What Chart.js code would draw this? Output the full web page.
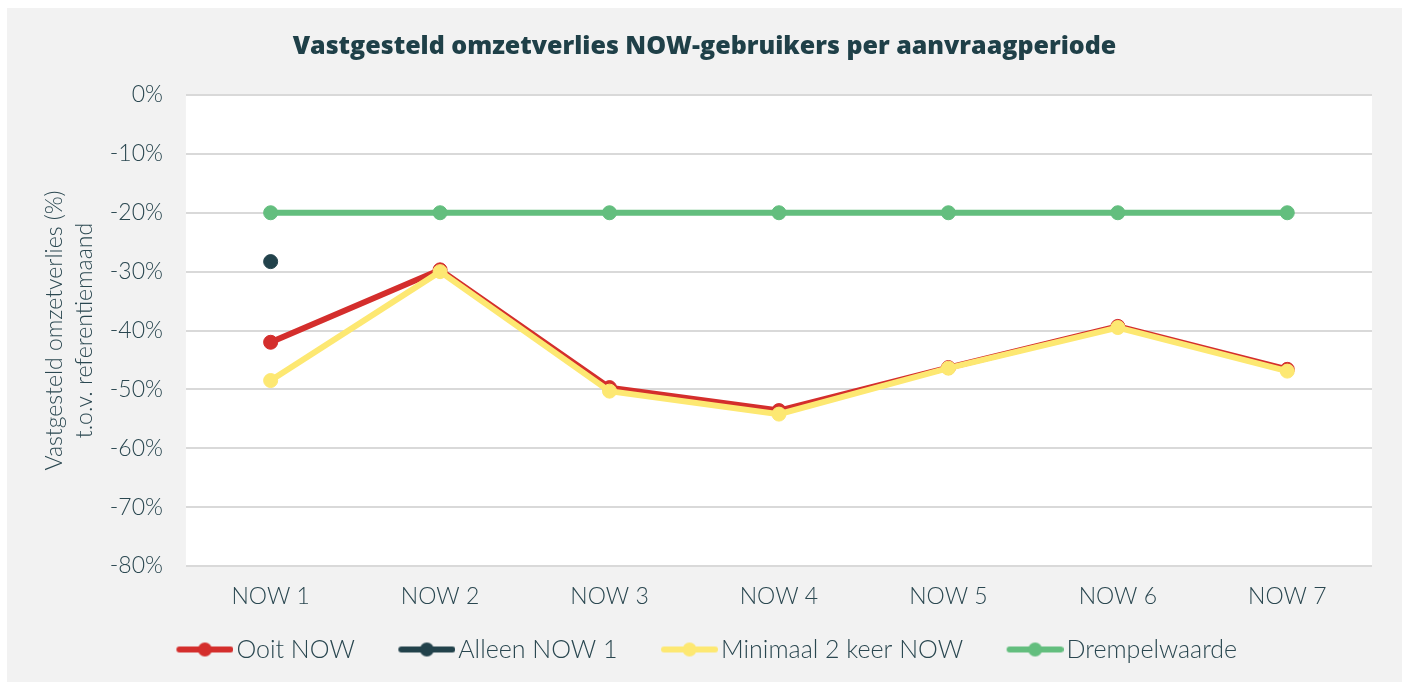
<!DOCTYPE html>
<html>
<head>
<meta charset="utf-8">
<script src="https://cdn.jsdelivr.net/npm/chart.js@4.4.1/dist/chart.umd.min.js"></script>
<style>
  html, body { margin: 0; padding: 0; background: #fff; }
  #wrap { position: absolute; left: 7px; top: 8px; width: 1395px; height: 674px; background: #f2f2f2; }
</style>
</head>
<body>
<div id="wrap"><canvas id="chart" width="1395" height="674"></canvas></div>
<script>
const categories = ["NOW 1", "NOW 2", "NOW 3", "NOW 4", "NOW 5", "NOW 6", "NOW 7"];
const ooitNow = [-42.0, -29.7, -49.7, -53.6, -46.3, -39.3, -46.6];
const alleenNow1 = [-28.3, null, null, null, null, null, null];
const minimaal2 = [-48.5, -30.0, -50.3, -54.2, -46.4, -39.5, -46.9];
const drempel = [-20, -20, -20, -20, -20, -20, -20];

const textColor = "#2a4750";
const font = "Lato, 'Open Sans', sans-serif";

// legend marker: line with a dot, sitting at the right end of the legend box
const markerBox = 66;
function legendMarker(color) {
  const c = document.createElement("canvas");
  c.width = markerBox + 19; c.height = 16;
  const g = c.getContext("2d");
  const x1 = c.width - 57;
  g.strokeStyle = color;
  g.lineWidth = 6;
  g.lineCap = "round";
  g.beginPath(); g.moveTo(x1 + 3, 8); g.lineTo(c.width - 3, 8); g.stroke();
  g.fillStyle = color;
  g.beginPath(); g.arc(x1 + 28.5, 8, 7, 0, Math.PI * 2); g.fill();
  return c;
}

const plotBg = {
  id: "plotBg",
  beforeDraw(chart) {
    const a = chart.chartArea, ctx = chart.ctx;
    ctx.save();
    ctx.fillStyle = "#ffffff";
    ctx.fillRect(a.left, a.top, a.right - a.left, a.bottom - a.top);
    ctx.restore();
  }
};

// nudge the legend row a little to the left
const legendShift = {
  id: "legendShift",
  afterLayout(chart) {
    chart.legend.left -= 7;
    chart.legend.right -= 7;
  }
};

function series(label, data, color, order) {
  return {
    label: label,
    data: data,
    borderColor: color,
    backgroundColor: color,
    pointBackgroundColor: color,
    pointBorderColor: color,
    borderWidth: 6,
    pointRadius: 7,
    pointBorderWidth: 1,
    pointHoverRadius: 7,
    tension: 0,
    spanGaps: false,
    order: order,
    marker: legendMarker(color)
  };
}

new Chart(document.getElementById("chart"), {
  type: "line",
  data: {
    labels: categories,
    datasets: [
      series("Ooit NOW", ooitNow, "#d42e2c", 2),
      series("Alleen NOW 1", alleenNow1, "#22424b", 1),
      series("Minimaal 2 keer NOW", minimaal2, "#fde872", 0),
      series("Drempelwaarde", drempel, "#63be7e", 3)
    ]
  },
  options: {
    responsive: false,
    animation: false,
    layout: { padding: { left: 30, right: 30, top: 8, bottom: 10 } },
    plugins: {
      title: {
        display: true,
        text: "Vastgesteld omzetverlies NOW-gebruikers per aanvraagperiode",
        color: "#1f4048",
        font: { family: "'Open Sans', Lato, sans-serif", size: 25, weight: 800 },
        padding: { top: 16, bottom: 33 }
      },
      legend: {
        position: "bottom",
        labels: {
          color: textColor,
          font: { family: font, size: 25, weight: 300 },
          usePointStyle: true,
          pointStyleWidth: markerBox,
          padding: 25,
          generateLabels(chart) {
            return chart.data.datasets.map((ds, i) => ({
              text: ds.label,
              pointStyle: ds.marker,
              fontColor: textColor,
              lineWidth: 0,
              hidden: false,
              datasetIndex: i
            }));
          }
        }
      },
      tooltip: { enabled: false }
    },
    scales: {
      x: {
        offset: true,
        grid: { display: false, drawTicks: false },
        border: { display: false },
        ticks: { color: textColor, font: { family: font, size: 23, weight: 300 }, padding: 17 },
        afterFit(scale) { scale.height = 46; }
      },
      y: {
        min: -80,
        max: 0,
        ticks: {
          stepSize: 10,
          color: textColor,
          font: { family: font, size: 23, weight: 300 },
          padding: 23,
          callback: v => v + "%"
        },
        grid: { color: "#d9d9d9", lineWidth: 2, drawTicks: false },
        border: { display: false },
        title: {
          display: true,
          text: ["Vastgesteld omzetverlies (%)", "t.o.v. referentiemaand"],
          color: textColor,
          font: { family: font, size: 23, weight: 300, lineHeight: 1.3 },
          padding: { top: 3, bottom: -13 }
        }
      }
    }
  },
  plugins: [plotBg, legendShift]
});
</script>
</body>
</html>
